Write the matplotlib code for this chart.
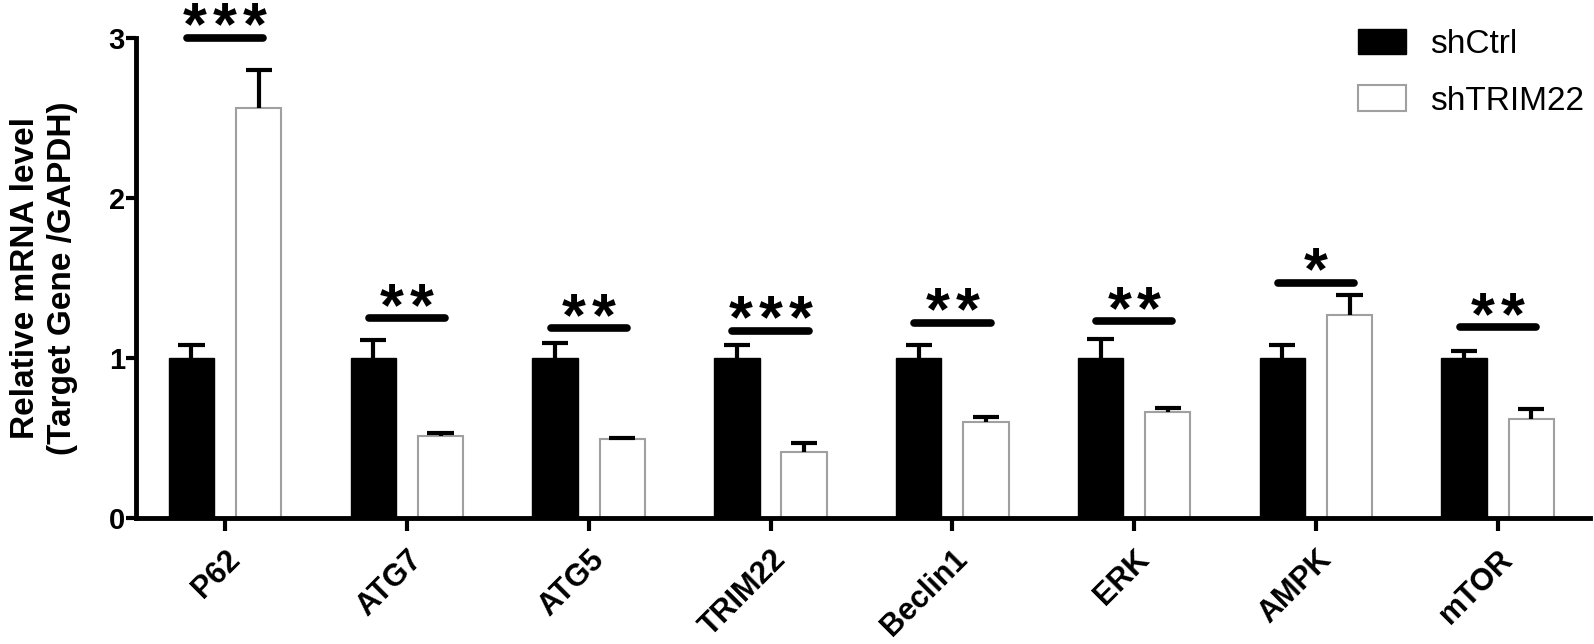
import matplotlib
matplotlib.use("Agg")
import matplotlib.pyplot as plt
import numpy as np

genes = ["P62", "ATG7", "ATG5", "TRIM22", "Beclin1", "ERK", "AMPK", "mTOR"]
ctrl = [1.0, 1.0, 1.0, 1.0, 1.0, 1.0, 1.0, 1.0]
ctrl_err = [0.08, 0.11, 0.09, 0.08, 0.08, 0.12, 0.08, 0.04]
trim = [2.56, 0.51, 0.49, 0.41, 0.60, 0.66, 1.27, 0.62]
trim_err = [0.24, 0.02, 0.01, 0.06, 0.03, 0.025, 0.125, 0.06]
sig_level = [3.0, 1.25, 1.185, 1.17, 1.22, 1.23, 1.47, 1.19]
stars = [3, 2, 2, 3, 2, 2, 1, 2]

plt.rcParams['font.family'] = ['Liberation Sans', 'DejaVu Sans']

fig = plt.figure(figsize=(15.94, 6.44), dpi=100)
ax = fig.add_axes([0.0853, 0.1957, 0.9125, 0.746])

x = np.arange(len(genes))
w = 0.25
off = 0.185
cap = 0.072

ax.bar(x - off, ctrl, w, color='black', edgecolor='black', linewidth=1,
       label='shCtrl', zorder=2)
ax.bar(x + off, trim, w, color='white', edgecolor='#a0a0a0', linewidth=1.5,
       label='shTRIM22', zorder=2)

# only the upper half of the error bar, like GraphPad
for xs, vals, errs in [(x - off, ctrl, ctrl_err), (x + off, trim, trim_err)]:
    tops = np.array(vals) + np.array(errs)
    ax.vlines(xs, vals, tops, color='black', lw=3, zorder=3)
    ax.hlines(tops, xs - cap, xs + cap, color='black', lw=3, zorder=3)

for i in range(len(genes)):
    ax.plot([x[i] - 0.21, x[i] + 0.21], [sig_level[i], sig_level[i]],
            color='black', lw=5.5, solid_capstyle='round', clip_on=False)
    n = stars[i]
    for k in range(n):
        dx = (k - (n - 1) / 2) * 21.5
        ax.annotate('*', xy=(x[i], sig_level[i]), xytext=(dx, -5),
                    textcoords='offset points', ha='center', va='baseline',
                    fontsize=44, fontweight='bold', clip_on=False,
                    annotation_clip=False)

ax.set_xlim(-0.49, 7.51)
ax.set_ylim(0, 3)
ax.set_yticks([0, 1, 2, 3])
ax.set_xticks(x)
ax.set_xticklabels(genes, rotation=45, ha='right', rotation_mode='anchor',
                   fontsize=22, fontweight='bold')
for lab in ax.get_yticklabels():
    lab.set_fontsize(21)
    lab.set_fontweight('bold')

for s in ['top', 'right']:
    ax.spines[s].set_visible(False)
for s in ['left', 'bottom']:
    ax.spines[s].set_linewidth(3.5)
ax.tick_params(axis='x', width=3, length=9, pad=10)
ax.tick_params(axis='y', width=3, length=7, pad=1)

ax.set_ylabel('Relative mRNA level\n(Target Gene /GAPDH)', fontsize=24,
              fontweight='bold', labelpad=22, linespacing=1.25)

ax.legend(loc='upper left', bbox_to_anchor=(0.852, 0.955),
          bbox_transform=fig.transFigure, frameon=False, borderpad=0,
          borderaxespad=0, fontsize=24, handlelength=1.45, handleheight=0.8,
          labelspacing=0.75, handletextpad=0.7)

fig.savefig('out.png', dpi=100)
